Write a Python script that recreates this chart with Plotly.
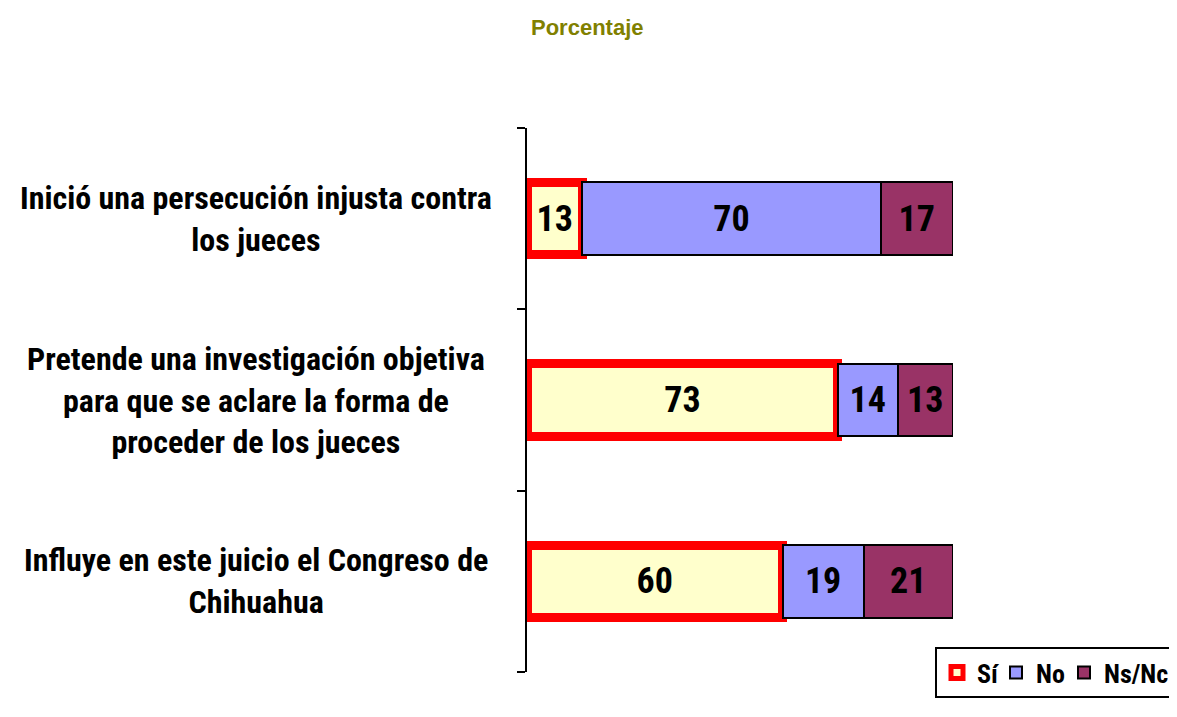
import plotly.graph_objects as go

categories = [
    "Inició una persecución injusta contra<br>los jueces",
    "Pretende una investigación objetiva<br>para que se aclare la forma de<br>proceder de los jueces",
    "Influye en este juicio el Congreso de<br>Chihuahua",
]
si = [13, 73, 60]
no = [70, 14, 19]
nsnc = [17, 13, 21]
series_names = ["Sí", "No", "Ns/Nc"]
title_text = "Porcentaje"

NARROW = "Liberation Sans Narrow, Arial Narrow, Roboto Condensed, Liberation Sans, Arial"
cat_idx = list(range(len(categories)))

# figure sized so the page (8px body margin) does not scroll
W, H = 1161, 701
L, T = 519, 120
R = W - 945
B = H - 664
PW = W - L - R
PH = H - T - B

fig = go.Figure()
fig.add_trace(go.Bar(
    y=cat_idx, x=si, name=series_names[0], orientation="h",
    marker=dict(color="#FFFFCC", line=dict(color="#FF0000", width=9)),
    text=si, textposition="inside", insidetextanchor="middle", legendwidth=14,
))
fig.add_trace(go.Bar(
    y=cat_idx, x=no, name=series_names[1], orientation="h",
    marker=dict(color="#9999FF", line=dict(color="#000000", width=2)),
    text=no, textposition="inside", insidetextanchor="middle", legendwidth=23,
))
fig.add_trace(go.Bar(
    y=cat_idx, x=nsnc, name=series_names[2], orientation="h",
    marker=dict(color="#993366", line=dict(color="#000000", width=2)),
    text=nsnc, textposition="inside", insidetextanchor="middle",
))
fig.update_traces(textfont=dict(family=NARROW, size=36, color="black", weight="bold"),
                  textangle=0, cliponaxis=False)

annotations = []
for i, c in enumerate(categories):
    annotations.append(dict(
        x=(248 - L) / PW, xref="paper", y=i, yref="y", text=c, showarrow=False,
        xanchor="center", yanchor="middle", align="center",
        font=dict(family=NARROW, size=32, color="black", weight="bold"),
    ))
annotations.append(dict(
    x=(579 - L) / PW, xref="paper", y=1 + (T - 19) / PH, yref="paper",
    text=title_text, showarrow=False, xanchor="center", yanchor="middle",
    font=dict(family="Liberation Sans, Arial", size=22, color="#808000", weight="bold"),
))

fig.update_layout(
    width=W, height=H,
    barmode="stack", bargap=0.6,
    margin=dict(l=L, r=R, t=T, b=B, autoexpand=False),
    paper_bgcolor="white", plot_bgcolor="white",
    xaxis=dict(range=[0, 100], visible=False, fixedrange=True),
    yaxis=dict(
        type="linear", range=[2.5, -0.5], tickvals=[-0.5, 0.5, 1.5, 2.5],
        showticklabels=False, ticks="outside", ticklen=8, tickwidth=2, tickcolor="black",
        showline=True, linecolor="black", linewidth=2, showgrid=False, zeroline=False,
    ),
    legend=dict(
        orientation="h", x=(927 - L) / PW, y=(T + PH - 639) / PH, xanchor="left", yanchor="top",
        bordercolor="black", borderwidth=2, bgcolor="white",
        font=dict(family=NARROW, size=26, color="black", weight="bold"),
        traceorder="normal", itemwidth=30,
    ),
    annotations=annotations,
    showlegend=True,
)

fig.write_html("out.html")
